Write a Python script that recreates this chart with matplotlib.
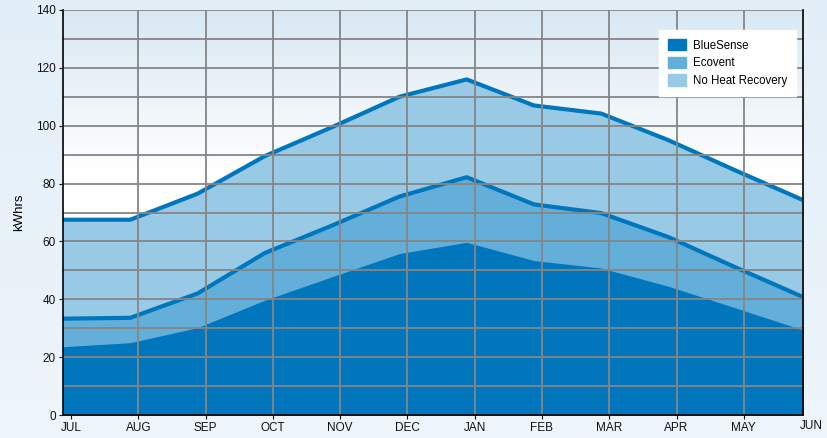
import numpy as np
import matplotlib.pyplot as plt
from matplotlib.patches import Patch
from matplotlib.colors import LinearSegmentedColormap

plt.rcParams['font.family'] = ['Liberation Sans', 'DejaVu Sans']

months = ['JUL', 'AUG', 'SEP', 'OCT', 'NOV', 'DEC', 'JAN', 'FEB', 'MAR', 'APR', 'MAY', 'JUN']
no_heat = [67.5, 67.5, 76.5, 89.5, 99.5, 110, 116, 107, 104.2, 95, 84.5, 74.3]
ecovent = [33.3, 33.6, 42, 56, 65.5, 75.5, 82.2, 72.8, 69.8, 61.5, 51, 40.8]
bluesense = [23.6, 25, 30.2, 39.7, 47.8, 55.8, 59.7, 53.4, 50.8, 44.5, 37, 29.4]

dark = '#0077bd'
mid = '#63afd9'
light = '#98cae6'

fig = plt.figure(figsize=(8.27, 4.38), dpi=100)

# figure background gradient
bg = fig.add_axes([0, 0, 1, 1], zorder=-10)
grad = np.linspace(0, 1, 256).reshape(-1, 1)
bg.imshow(grad, aspect='auto', extent=[0, 1, 0, 1], origin='lower',
          cmap=LinearSegmentedColormap.from_list('bg', ['#eef5fb', '#e3eff8']))
bg.axis('off')

ax = fig.add_axes([63 / 827, 1 - 415 / 438, 740 / 827, 405 / 438])
x = np.arange(len(months))

# axes background gradient (white -> pale blue at top)
ax.imshow(grad, aspect='auto', extent=[0, 11, 0, 140], origin='lower', zorder=0,
          cmap=LinearSegmentedColormap.from_list(
              'ax', [(0, 'white'), (0.6, 'white'), (1, '#d8e8f3')]))

ax.fill_between(x, 0, no_heat, color=light, zorder=1, lw=0)
ax.fill_between(x, 0, ecovent, color=mid, zorder=2, lw=0)
ax.fill_between(x, 0, bluesense, color=dark, zorder=3, lw=0)
ax.plot(x, no_heat, color=dark, lw=3, zorder=4, solid_joinstyle='round')
ax.plot(x, ecovent, color=dark, lw=3, zorder=4, solid_joinstyle='round')

ax.set_xlim(0, 11)
ax.set_ylim(0, 140)

# grid
off = 0.12
for i in range(1, 11):
    ax.axvline(i + off, color='#858585', lw=1.3, zorder=5)
for yv in range(10, 141, 10):
    ax.axhline(yv, color='#858585', lw=1.3, zorder=5)

ax.set_yticks(range(0, 141, 20))
ax.set_xticks(x[:-1] + off)
ax.set_xticklabels(months[:-1])
ax.text(11 + off, -0.012, months[-1], transform=ax.get_xaxis_transform(),
        ha='center', va='top', fontsize=8.5, color='#111111', clip_on=False)
ax.tick_params(axis='both', labelsize=8.5, colors='#111111', length=3, width=0.8, pad=2)
ax.set_ylabel('kWhrs', fontsize=9.5, labelpad=8)

for s in ['left', 'bottom', 'right']:
    ax.spines[s].set_color('black')
    ax.spines[s].set_linewidth(1.2)
    ax.spines[s].set_zorder(6)
ax.spines['top'].set_visible(False)

handles = [Patch(color=dark, label='BlueSense'),
           Patch(color=mid, label='Ecovent'),
           Patch(color=light, label='No Heat Recovery')]
leg = ax.legend(handles=handles, loc='upper right', bbox_to_anchor=(0.9985, 0.965),
                fontsize=8.3, frameon=True, fancybox=False, framealpha=1,
                edgecolor='white', handlelength=1.5, handleheight=1.1,
                handletextpad=0.6, borderpad=0.8, labelspacing=0.45)
leg.set_zorder(10)

fig.savefig('out.png', dpi=100)
